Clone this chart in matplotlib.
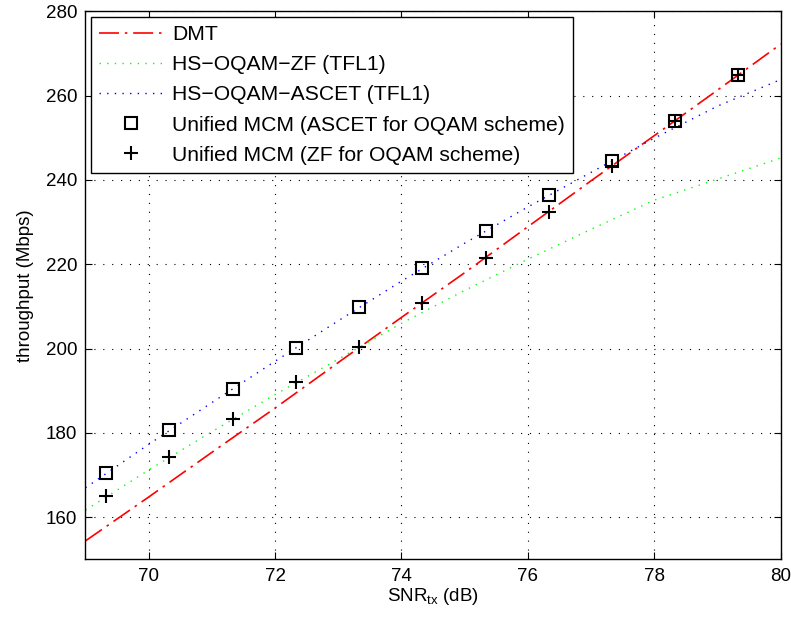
import matplotlib
matplotlib.use('Agg')
import matplotlib.pyplot as plt

plt.rcParams['font.family'] = ['Liberation Sans', 'DejaVu Sans']
plt.rcParams['font.size'] = 13.5
plt.rcParams['mathtext.fontset'] = 'custom'
plt.rcParams['mathtext.rm'] = 'Liberation Sans'

# throughput curves, evaluated at integer SNR values
snr = [69, 70, 71, 72, 73, 74, 75, 76, 77, 78, 79, 80]
dmt = [154.4, 164.8, 175.4, 185.9, 196.7, 207.4, 218.0, 228.9, 239.8, 250.5, 261.3, 272.2]
oqam_zf = [161.7, 171.2, 180.3, 189.1, 197.5, 206.0, 213.8, 221.2, 228.3, 235.2, 240.2, 245.2]
oqam_ascet = [167.0, 177.3, 187.2, 197.0, 206.6, 216.0, 225.0, 233.6, 241.8, 249.9, 257.5, 263.8]

# unified MCM results
snr_mcm = [69.33, 70.33, 71.33, 72.33, 73.33, 74.33, 75.33, 76.33, 77.33, 78.33, 79.33]
mcm_ascet = [170.5, 180.6, 190.5, 200.1, 209.8, 219.0, 227.9, 236.4, 244.4, 254.0, 264.9]
mcm_zf = [165.0, 174.3, 183.4, 192.1, 200.3, 210.9, 221.5, 232.5, 243.3, 254.0, 264.9]

fig = plt.figure(figsize=(7.91, 6.24), dpi=100)
ax = fig.add_axes([0.108, 0.1034, 0.879, 0.8786])

ax.plot(snr, dmt, color=(1, 0, 0), linewidth=1.2, linestyle=(0, (12, 3.5, 1.5, 3.5)), label='DMT')
ax.plot(snr, oqam_zf, color=(0, 1, 0), linewidth=1.0, linestyle=(0, (1, 4.5)), label='HS\u2212OQAM\u2212ZF (TFL1)')
ax.plot(snr, oqam_ascet, color=(0, 0, 1), linewidth=1.0, linestyle=(0, (1, 4.5)), label='HS\u2212OQAM\u2212ASCET (TFL1)')
ax.plot(snr_mcm, mcm_ascet, linestyle='none', marker='s', markersize=8, markerfacecolor='none',
        markeredgecolor='black', markeredgewidth=1.5, label='Unified MCM (ASCET for OQAM scheme)')
ax.plot(snr_mcm, mcm_zf, linestyle='none', marker='+', markersize=10, color='black',
        markeredgewidth=1.5, label='Unified MCM (ZF for OQAM scheme)')

ax.set_xlim(69, 80)
ax.set_ylim(150, 280)
ax.set_xticks([70, 72, 74, 76, 78, 80])
ax.set_yticks([160, 180, 200, 220, 240, 260, 280])
ax.tick_params(direction='in', top=True, right=True, length=5, width=0.8, labelsize=13.5, pad=6)
ax.grid(True, color='black', linestyle=(0, (1, 7)), linewidth=0.8)
for s in ax.spines.values():
    s.set_linewidth(1.0)

ax.set_xlabel(r'SNR$_{\mathregular{tx}}$ (dB)', fontsize=13.5, labelpad=1)
ax.set_ylabel('throughput (Mbps)', fontsize=13.5, labelpad=8)

leg = ax.legend(loc='upper left', fontsize=15.2, fancybox=False, framealpha=1, edgecolor='black',
                handlelength=3.0, handletextpad=0.45, borderaxespad=0.25, labelspacing=0.53,
                borderpad=0.4)
leg.get_frame().set_linewidth(1.0)

fig.savefig('out.png', dpi=100)
